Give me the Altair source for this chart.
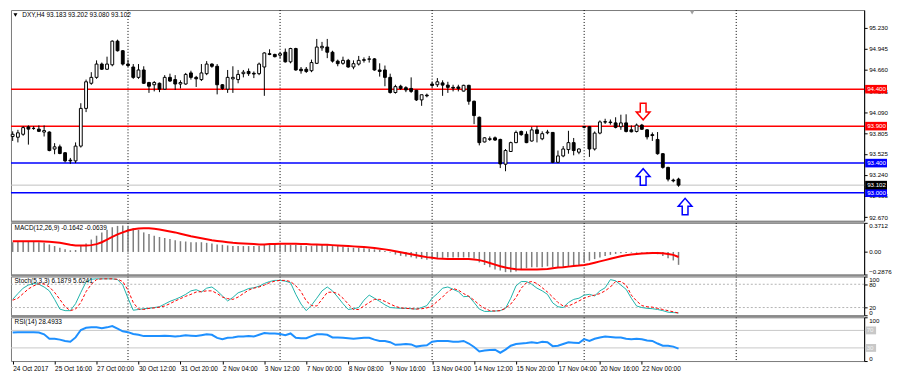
import json
import altair as alt
import pandas as pd

# ---------------- data ----------------
opens = [93.76, 93.75, 93.79, 93.89, 93.87, 93.86, 93.82, 93.82, 93.59, 93.62,
         93.54, 93.44, 93.43, 93.63, 94.14, 94.48, 94.56, 94.74, 94.67, 94.73,
         95.05, 94.92, 94.74, 94.70, 94.56, 94.66, 94.49, 94.46, 94.48, 94.40,
         94.56, 94.53, 94.47, 94.47, 94.62, 94.56, 94.53, 94.61, 94.74, 94.71,
         94.46, 94.40, 94.54, 94.53, 94.61, 94.64, 94.615, 94.61, 94.70, 94.88,
         94.87, 94.86, 94.90, 94.77, 94.95, 94.67, 94.67, 94.65, 94.75, 94.96,
         94.97, 94.90, 94.78, 94.75, 94.79, 94.70, 94.74, 94.79, 94.805, 94.81,
         94.66, 94.66, 94.56, 94.355, 94.44, 94.42, 94.41, 94.385, 94.255, 94.32,
         94.47, 94.46, 94.485, 94.455, 94.425, 94.43, 94.374, 94.452, 94.237, 94.02,
         93.686, 93.72, 93.742, 93.72, 93.385, 93.557, 93.677, 93.828, 93.79, 93.699,
         93.85, 93.729, 93.81, 93.815, 93.411, 93.497, 93.583, 93.677, 93.548, 93.895,
         93.892, 93.591, 93.806, 93.96, 93.956, 93.944, 93.892, 93.944, 93.85, 93.828,
         93.914, 93.85, 93.785, 93.72, 93.527, 93.342, 93.17, 93.183]
highs = [93.83, 93.85, 93.90, 93.91, 93.90, 93.91, 93.91, 93.83, 93.67, 93.65,
         93.55, 93.47, 93.68, 94.21, 94.53, 94.63, 94.79, 94.76, 94.84, 95.06,
         95.07, 94.93, 94.80, 94.74, 94.74, 94.71, 94.50, 94.51, 94.49, 94.59,
         94.61, 94.59, 94.52, 94.62, 94.65, 94.58, 94.74, 94.78, 94.75, 94.74,
         94.47, 94.66, 94.71, 94.66, 94.66, 94.68, 94.64, 94.76, 94.90, 94.94,
         94.88, 94.90, 94.95, 94.96, 94.96, 94.70, 94.70, 94.80, 95.08, 95.04,
         95.08, 94.92, 94.80, 94.84, 94.81, 94.79, 94.85, 94.83, 94.85, 94.82,
         94.75, 94.72, 94.61, 94.46, 94.46, 94.44, 94.56, 94.39, 94.29, 94.34,
         94.50, 94.55, 94.52, 94.50, 94.46, 94.46, 94.46, 94.46, 94.245, 94.03,
         93.75, 93.76, 93.76, 93.73, 93.59, 93.69, 93.84, 93.84, 93.83, 93.89,
         93.90, 93.83, 93.85, 93.82, 93.57, 93.63, 93.837, 93.74, 93.60, 93.90,
         93.90, 93.828, 93.978, 94.00, 93.99, 94.02, 94.055, 94.06, 93.91, 93.935,
         93.93, 93.86, 93.815, 93.82, 93.535, 93.35, 93.19, 93.202]
lows = [93.70, 93.68, 93.77, 93.65, 93.85, 93.82, 93.76, 93.56, 93.52, 93.52,
        93.41, 93.39, 93.40, 93.61, 94.09, 94.46, 94.54, 94.66, 94.66, 94.71,
        94.91, 94.72, 94.70, 94.54, 94.54, 94.47, 94.35, 94.37, 94.36, 94.39,
        94.50, 94.39, 94.41, 94.46, 94.53, 94.43, 94.51, 94.59, 94.69, 94.33,
        94.39, 94.35, 94.35, 94.48, 94.56, 94.58, 94.55, 94.59, 94.31, 94.86,
        94.83, 94.82, 94.76, 94.75, 94.65, 94.61, 94.62, 94.63, 94.74, 94.92,
        94.82, 94.76, 94.71, 94.73, 94.69, 94.67, 94.72, 94.76, 94.76, 94.65,
        94.57, 94.44, 94.34, 94.34, 94.39, 94.36, 94.35, 94.24, 94.175, 94.29,
        94.42, 94.43, 94.31, 94.35, 94.37, 94.37, 94.37, 94.19, 93.927, 93.64,
        93.68, 93.70, 93.70, 93.333, 93.29, 93.55, 93.67, 93.77, 93.67, 93.69,
        93.68, 93.71, 93.79, 93.40, 93.40, 93.48, 93.527, 93.505, 93.52, 93.87,
        93.484, 93.57, 93.79, 93.93, 93.92, 93.87, 93.85, 93.815, 93.815, 93.815,
        93.85, 93.72, 93.70, 93.514, 93.325, 93.153, 93.14, 93.080]
closes = [93.79, 93.81, 93.88, 93.86, 93.87, 93.83, 93.84, 93.57, 93.62, 93.53,
          93.43, 93.43, 93.63, 94.14, 94.50, 94.56, 94.74, 94.67, 94.74, 95.05,
          94.92, 94.74, 94.72, 94.56, 94.66, 94.48, 94.44, 94.49, 94.40, 94.56,
          94.51, 94.47, 94.49, 94.60, 94.56, 94.54, 94.62, 94.74, 94.71, 94.46,
          94.41, 94.56, 94.56, 94.60, 94.63, 94.61, 94.605, 94.74, 94.89, 94.87,
          94.84, 94.88, 94.77, 94.95, 94.66, 94.65, 94.64, 94.76, 94.97, 94.98,
          94.90, 94.78, 94.745, 94.79, 94.70, 94.745, 94.79, 94.80, 94.81, 94.66,
          94.64, 94.56, 94.355, 94.435, 94.41, 94.39, 94.37, 94.255, 94.325, 94.31,
          94.45, 94.50, 94.455, 94.425, 94.415, 94.41, 94.452, 94.237, 94.043, 93.677,
          93.742, 93.73, 93.712, 93.389, 93.57, 93.677, 93.815, 93.785, 93.677, 93.849,
          93.80, 93.798, 93.82, 93.411, 93.497, 93.591, 93.677, 93.570, 93.591, 93.885,
          93.591, 93.806, 93.957, 93.955, 93.948, 93.884, 93.944, 93.828, 93.824, 93.914,
          93.858, 93.755, 93.773, 93.527, 93.342, 93.183, 93.16, 93.102]

macd_hist = [0.124, 0.133, 0.137, 0.137, 0.133, 0.124, 0.116, 0.095, 0.075, 0.054,
             0.033, 0.021, 0.025, 0.075, 0.108, 0.158, 0.207, 0.249, 0.282, 0.315,
             0.332, 0.336, 0.324, 0.303, 0.282, 0.249, 0.228, 0.207, 0.191, 0.178,
             0.166, 0.149, 0.137, 0.133, 0.124, 0.124, 0.124, 0.116, 0.108, 0.095,
             0.091, 0.083, 0.075, 0.075, 0.075, 0.075, 0.075, 0.075, 0.091, 0.100,
             0.095, 0.095, 0.091, 0.091, 0.091, 0.083, 0.075, 0.075, 0.091, 0.095,
             0.091, 0.083, 0.075, 0.066, 0.058, 0.054, 0.050, 0.046, 0.041, 0.033,
             0.025, 0.012, -0.008, -0.033, -0.050, -0.058, -0.066, -0.083, -0.091, -0.100,
             -0.083, -0.075, -0.075, -0.070, -0.070, -0.070, -0.070, -0.070, -0.083, -0.133,
             -0.166, -0.195, -0.224, -0.237, -0.257, -0.257, -0.249, -0.224, -0.207, -0.195,
             -0.195, -0.195, -0.183, -0.195, -0.195, -0.195, -0.183, -0.174, -0.166, -0.133,
             -0.112, -0.091, -0.070, -0.050, -0.037, -0.025, -0.017, -0.012, -0.008, -0.008,
             -0.008, -0.012, -0.017, -0.029, -0.050, -0.079, -0.108, -0.1642]
macd_signal = [0.137, 0.137, 0.137, 0.137, 0.137, 0.137, 0.133, 0.129, 0.124, 0.116,
               0.104, 0.091, 0.083, 0.083, 0.083, 0.087, 0.100, 0.124, 0.158, 0.191,
               0.224, 0.249, 0.274, 0.290, 0.299, 0.303, 0.303, 0.295, 0.286, 0.274,
               0.261, 0.249, 0.232, 0.216, 0.199, 0.187, 0.174, 0.162, 0.149, 0.141,
               0.133, 0.124, 0.116, 0.112, 0.108, 0.104, 0.100, 0.095, 0.095, 0.100,
               0.100, 0.104, 0.104, 0.104, 0.104, 0.100, 0.100, 0.095, 0.095, 0.091,
               0.091, 0.087, 0.083, 0.079, 0.075, 0.071, 0.066, 0.062, 0.058, 0.050,
               0.041, 0.033, 0.021, 0.008, -0.004, -0.017, -0.029, -0.041, -0.054, -0.066,
               -0.075, -0.083, -0.087, -0.091, -0.091, -0.091, -0.091, -0.091, -0.095, -0.104,
               -0.120, -0.141, -0.162, -0.183, -0.199, -0.212, -0.220, -0.224, -0.224, -0.224,
               -0.224, -0.220, -0.216, -0.207, -0.199, -0.195, -0.187, -0.178, -0.174, -0.166,
               -0.154, -0.137, -0.120, -0.104, -0.087, -0.070, -0.054, -0.041, -0.033, -0.025,
               -0.021, -0.017, -0.012, -0.012, -0.017, -0.025, -0.037, -0.0639]

stoch_main = [41, 56, 70, 78, 82, 80, 73, 63, 41, 16,
              12, 12, 30, 59, 86, 93, 94, 94, 94, 94,
              92, 78, 44, 13, 15, 17, 18, 20, 22, 29,
              36, 41, 47, 54, 63, 66, 60, 70, 73, 63,
              50, 37, 46, 58, 63, 69, 71, 75, 82, 87,
              90, 90, 88, 84, 54, 29, 12, 26, 44, 63,
              73, 63, 47, 30, 15, 17, 20, 39, 52, 44,
              36, 27, 20, 19, 18, 18, 17, 16, 20, 25,
              44, 56, 70, 73, 67, 61, 48, 49, 33, 16,
              10, 10, 11, 12, 18, 44, 76, 87, 87, 80,
              70, 63, 54, 32, 22, 20, 33, 41, 44, 52,
              54, 50, 63, 71, 92, 89, 78, 67, 44, 24,
              20, 18, 17, 15, 12, 8, 7, 6.1879]
stoch_signal = [39, 44, 56, 68, 76, 81, 81, 73, 59, 41,
                22, 12, 16, 33, 61, 80, 92, 94, 94, 94,
                93, 87, 65, 33, 16, 15, 18, 19, 21, 24,
                30, 37, 43, 49, 54, 60, 61, 63, 63, 56,
                47, 43, 41, 47, 56, 65, 70, 73, 78, 84,
                88, 90, 90, 87, 76, 61, 37, 25, 24, 41,
                59, 60, 56, 44, 29, 15, 15, 24, 33, 41,
                41, 36, 29, 23, 19, 18, 17, 16, 17, 19,
                24, 36, 47, 61, 69, 65, 56, 49, 39, 27,
                18, 12, 11, 12, 18, 29, 46, 70, 84, 87,
                82, 71, 60, 47, 33, 24, 24, 30, 37, 44,
                49, 52, 56, 63, 73, 87, 87, 78, 52, 37,
                25, 22, 21, 18, 15, 12, 9, 5.6241]

rsi_values = [65, 66, 66, 66, 66, 65, 61, 51, 51, 49,
              46, 44, 54, 71, 76, 77, 77, 75, 77, 80,
              74, 68, 66, 62, 60, 57, 57, 57, 57, 58,
              57, 56, 57, 59, 58, 57, 59, 61, 60, 53,
              50, 53, 54, 56, 56, 57, 56, 60, 64, 63,
              63, 62, 59, 63, 53, 52, 52, 57, 61, 61,
              60, 54, 54, 53, 52, 51, 52, 53, 53, 49,
              46, 46, 43, 37, 38, 39, 38, 33, 35, 36,
              44, 46, 46, 46, 44, 44, 46, 40, 32, 22,
              24, 25, 26, 19, 26, 35, 39, 40, 41, 43,
              41, 44, 43, 34, 35, 39, 43, 42, 41, 50,
              46, 51, 54, 56, 55, 54, 54, 51, 50, 51,
              50, 47, 46, 40, 35, 35, 33, 28.4933]

date_labels = ["24 Oct 2017", "25 Oct 16:00", "27 Oct 00:00", "30 Oct 12:00",
               "31 Oct 20:00", "2 Nov 04:00", "3 Nov 12:00", "7 Nov 00:00",
               "8 Nov 08:00", "9 Nov 16:00", "13 Nov 04:00", "14 Nov 12:00",
               "15 Nov 20:00", "17 Nov 04:00", "20 Nov 16:00", "22 Nov 00:00"]
bars_per_label = 8
week_starts = [22, 51, 80, 109, 138]

price_ticks = [95.230, 94.945, 94.660, 94.375, 94.090, 93.805, 93.525, 93.240, 92.955, 92.670]
levels = [94.400, 93.900, 93.400, 93.000]
level_colors = ["#ff0000", "#ff0000", "#0000ff", "#0000ff"]
bid_price = 93.102

arrow_bars = [120.25, 120.25, 128.25]
arrow_prices = [94.097, 93.213, 92.813]
arrow_dirs = ["down", "up", "up"]
arrow_colors = ["#ff0000", "#0000ff", "#0000ff"]

macd_ticks = [0.3712, 0.0, -0.2876]
stoch_ticks = [100, 80, 20, 0]
stoch_levels = [80, 20]
rsi_ticks = [100, 0]
rsi_levels = [70, 30]

title_main = "DXY,H4  93.183 93.202 93.080 93.102"
title_macd = "MACD(12,26,9) -0.1642 -0.0639"
title_stoch = "Stoch(5,3,3) 6.1879 5.6241"
title_rsi = "RSI(14) 28.4933"

# ---------------- layout / style ----------------
W = 858
H_MAIN, H_MACD, H_STO, H_RSI = 212, 52, 39, 44
FONT = "Liberation Sans"
FS = 6.5
FS_AX = 6.2
SEP = "#8a8a8a"

N = len(opens)
df = pd.DataFrame({
    "i": list(range(N)), "o": opens, "h": highs, "l": lows, "c": closes,
    "macd": macd_hist, "sig": macd_signal, "k": stoch_main, "d": stoch_signal,
    "rsi": rsi_values,
})
df["fill"] = ["#ffffff" if c >= o else "#000000" for o, c in zip(opens, closes)]

xscale = alt.Scale(domain=[-0.32, 162.4], nice=False, zero=False)


def xenc(field="i", axis=None):
    return alt.X(f"{field}:Q", scale=xscale, axis=axis, title=None)


def yaxis(**kw):
    base = dict(orient="right", title=None, grid=False, tickSize=3, tickColor="black",
                domainColor="black", labelColor="black", labelFont=FONT,
                labelFontSize=FS_AX, labelPadding=1.5, labelOverlap=False)
    base.update(kw)
    return alt.Axis(**base)


one = pd.DataFrame({"a": [0]})


def week_grid(axis=None):
    return alt.Chart(pd.DataFrame({"i": week_starts})).mark_rule(
        color="#000000", strokeDash=[1, 2], strokeWidth=1).encode(x=xenc("i", axis))


def title_layer(txt, x, y):
    return alt.Chart(pd.DataFrame({"t": [txt]})).mark_text(
        align="left", baseline="middle", font=FONT, fontSize=FS, color="black"
    ).encode(x=alt.value(x), y=alt.value(y), text="t:N")


def separator():
    return alt.Chart(one).mark_rule(color=SEP, strokeWidth=2).encode(
        x=alt.value(0), x2=alt.value(W), y=alt.value(-1))


# ---------------- main price panel ----------------
ys_main = alt.Scale(domain=[92.619, 95.471], nice=False, zero=False)
ax_main = yaxis(values=price_ticks, format=".3f")


def ym(f):
    return alt.Y(f"{f}:Q", scale=ys_main, axis=ax_main, title=None)


lev_df = pd.DataFrame({"p": levels, "col": level_colors})
lev = alt.Chart(lev_df).mark_rule(strokeWidth=1.5).encode(
    y=ym("p"), color=alt.Color("col:N", scale=None))
bidline = alt.Chart(pd.DataFrame({"p": [bid_price]})).mark_rule(
    color="#c0c0c0", strokeWidth=1).encode(y=ym("p"))

wicks = alt.Chart(df).mark_rule(color="black", strokeWidth=1).encode(
    x=xenc(), y=ym("l"), y2="h:Q")
bodies = alt.Chart(df).transform_calculate(
    xa="datum.i - 0.27", xb="datum.i + 0.27"
).mark_rect(stroke="black", strokeWidth=1).encode(
    x=xenc("xa"), x2="xb:Q", y=ym("o"), y2="c:Q", fill=alt.Fill("fill:N", scale=None))

DOWN = "M-0.42,-1.2L0.42,-1.2L0.42,0.05L1,0.05L0,1.2L-1,0.05L-0.42,0.05Z"
UP = "M-0.42,1.2L0.42,1.2L0.42,-0.05L1,-0.05L0,-1.2L-1,-0.05L-0.42,-0.05Z"
arr_df = pd.DataFrame({"i": arrow_bars, "p": arrow_prices,
                       "shp": [DOWN if d == "down" else UP for d in arrow_dirs],
                       "col": arrow_colors})
arrows = alt.Chart(arr_df).mark_point(filled=False, size=190, strokeWidth=1.5, opacity=1).encode(
    x=xenc(), y=ym("p"), shape=alt.Shape("shp:N", scale=None),
    color=alt.Color("col:N", scale=None))

tags = pd.DataFrame({"p": levels + [bid_price], "col": level_colors + ["#000000"]})
tags["txt"] = [f"{v:.3f}" for v in tags["p"]]
tag_rect = alt.Chart(tags).transform_calculate(
    pa="datum.p + 0.058", pb="datum.p - 0.058"
).mark_rect().encode(x=alt.value(W + 1), x2=alt.value(W + 23), y=ym("pa"), y2="pb:Q",
                     fill=alt.Fill("col:N", scale=None))
tag_text = alt.Chart(tags).mark_text(
    align="left", baseline="middle", font=FONT, fontSize=FS_AX, color="white"
).encode(x=alt.value(W + 3), y=ym("p"), text="txt:N")

tri = alt.Chart(one).mark_point(shape="triangle-down", filled=True, size=16, color="black",
                                opacity=1).encode(x=alt.value(4.5), y=alt.value(5.0))
shift_tri = alt.Chart(one).mark_point(shape="triangle-down", filled=True, size=22,
                                      color="#a0a0a0", opacity=1).encode(
    x=alt.value(685), y=alt.value(2.5))

main = alt.layer(
    week_grid(), lev, bidline, wicks, bodies, arrows, tag_rect, tag_text,
    tri, shift_tri, title_layer(title_main, 11.3, 5.3)
).properties(width=W, height=H_MAIN)

# ---------------- MACD panel ----------------
ys_macd = alt.Scale(domain=[-0.2876, 0.3712], nice=False, zero=False)
ax_macd = yaxis(values=macd_ticks, labelFlush=True,
                labelExpr="datum.value == 0 ? '0.00' : format(datum.value, '.4f')")

hist = alt.Chart(df).transform_calculate(z="0").mark_rule(
    color="#7f7f7f", strokeWidth=1.5).encode(
    x=xenc(), y=alt.Y("z:Q", scale=ys_macd, axis=ax_macd, title=None), y2="macd:Q")
sig_line = alt.Chart(df).mark_line(color="#ff0000", strokeWidth=2).encode(
    x=xenc(), y=alt.Y("sig:Q", scale=ys_macd, axis=ax_macd, title=None))
macd = alt.layer(
    week_grid(), hist, sig_line, separator(), title_layer(title_macd, 3.6, 5)
).properties(width=W, height=H_MACD)

# ---------------- Stochastic panel ----------------
ys_sto = alt.Scale(domain=[0, 100], nice=False, zero=False)
ax_sto = yaxis(values=stoch_ticks, labelFlush=True)
sto_lev = alt.Chart(pd.DataFrame({"v": stoch_levels})).mark_rule(
    color="#b4b4b4", strokeDash=[2, 2], strokeWidth=1).encode(
    y=alt.Y("v:Q", scale=ys_sto, axis=ax_sto, title=None))
k_line = alt.Chart(df).mark_line(color="#20b2aa", strokeWidth=1).encode(
    x=xenc(), y=alt.Y("k:Q", scale=ys_sto, axis=ax_sto, title=None))
d_line = alt.Chart(df).mark_line(color="#ff0000", strokeWidth=1, strokeDash=[3, 2]).encode(
    x=xenc(), y=alt.Y("d:Q", scale=ys_sto, axis=ax_sto, title=None))
stoch = alt.layer(
    week_grid(), sto_lev, k_line, d_line, separator(), title_layer(title_stoch, 3.6, 4.5)
).properties(width=W, height=H_STO)

# ---------------- RSI panel ----------------
label_js = json.dumps(date_labels)
ax_x = alt.Axis(values=[bars_per_label * k for k in range(len(date_labels))],
                labelExpr=f"{label_js}[round(datum.value / {bars_per_label})]",
                labelAlign="left", labelBaseline="top", labelPadding=2, tickSize=3,
                tickColor="black", domain=False, grid=False, labelFont=FONT,
                labelFontSize=FS, labelColor="black", labelOverlap=False, title=None,
                labelFlush=False)
ys_rsi = alt.Scale(domain=[0, 100], nice=False, zero=False)
ax_rsi = yaxis(values=rsi_ticks, labelFlush=True)
rsi_lev = alt.Chart(pd.DataFrame({"v": rsi_levels})).mark_rule(
    color="#c8c8c8", strokeWidth=1).encode(
    y=alt.Y("v:Q", scale=ys_rsi, axis=ax_rsi, title=None))
rsi_tag_df = pd.DataFrame({"v": rsi_levels, "t": [str(v) for v in rsi_levels]})
rsi_tag_rect = alt.Chart(rsi_tag_df).transform_calculate(
    va="datum.v + 9", vb="datum.v - 9"
).mark_rect(color="#c8c8c8").encode(
    x=alt.value(W + 1), x2=alt.value(W + 12),
    y=alt.Y("va:Q", scale=ys_rsi, axis=ax_rsi, title=None), y2="vb:Q")
rsi_tag_text = alt.Chart(rsi_tag_df).mark_text(
    align="left", baseline="middle", font=FONT, fontSize=FS_AX, color="#f4f4f4"
).encode(x=alt.value(W + 2.5), y=alt.Y("v:Q", scale=ys_rsi, axis=ax_rsi, title=None),
         text="t:N")
rsi_line = alt.Chart(df).mark_line(color="#1e90ff", strokeWidth=2).encode(
    x=xenc("i", ax_x), y=alt.Y("rsi:Q", scale=ys_rsi, axis=ax_rsi, title=None))
rsi_chart = alt.layer(
    week_grid(ax_x), rsi_lev, rsi_line, rsi_tag_rect, rsi_tag_text, separator(),
    title_layer(title_rsi, 3.6, 4.5)
).properties(width=W, height=H_RSI)

chart = alt.vconcat(main, macd, stoch, rsi_chart, spacing=2, bounds="flush").properties(
    padding=0,
    background="white",
).configure_view(stroke="#7a7a7a", strokeWidth=1)

chart.save("out.html", embed_options={"renderer": "svg", "actions": False})
